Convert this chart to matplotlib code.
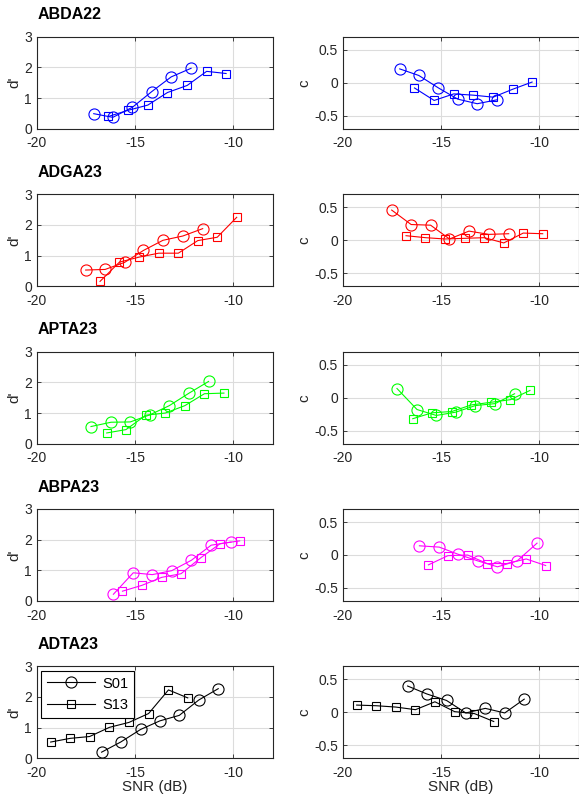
import matplotlib
matplotlib.use("Agg")
import matplotlib.pyplot as plt

plt.rcParams['font.family'] = ['Liberation Sans', 'DejaVu Sans']

names = ['ABDA22', 'ADGA23', 'APTA23', 'ABPA23', 'ADTA23']
colors = ['#0000ff', '#ff0000', '#00ff00', '#ff00ff', '#000000']

# S01 (circles) and S13 (squares): SNR, d', c
s01_snr = [
    [-17.1, -16.13, -15.13, -14.15, -13.16, -12.15],
    [-17.51, -16.52, -15.53, -14.57, -13.58, -12.57, -11.56],
    [-17.24, -16.22, -15.24, -14.25, -13.26, -12.25, -11.26],
    [-16.10, -15.09, -14.12, -13.13, -12.13, -11.13, -10.12],
    [-16.70, -15.73, -14.72, -13.74, -12.75, -11.76, -10.77],
]
s01_dp = [
    [0.49, 0.37, 0.70, 1.21, 1.69, 1.97],
    [0.53, 0.55, 0.78, 1.17, 1.50, 1.64, 1.88],
    [0.56, 0.70, 0.71, 0.94, 1.24, 1.65, 2.03],
    [0.22, 0.92, 0.86, 0.99, 1.33, 1.82, 1.92],
    [0.20, 0.53, 0.94, 1.22, 1.40, 1.90, 2.27],
]
s01_c = [
    [0.21, 0.11, -0.08, -0.25, -0.32, -0.26],
    [0.46, 0.24, 0.23, 0.02, 0.14, 0.09, 0.10],
    [0.14, -0.18, -0.27, -0.22, -0.12, -0.09, 0.06],
    [0.14, 0.12, 0.01, -0.09, -0.18, -0.09, 0.18],
    [0.40, 0.28, 0.18, -0.01, 0.06, -0.01, 0.20],
]
s13_snr = [
    [-16.35, -15.35, -14.35, -13.35, -12.35, -11.36, -10.37],
    [-16.78, -15.79, -14.80, -13.80, -12.80, -11.81, -10.82, -9.83],
    [-16.44, -15.46, -14.45, -13.46, -12.47, -11.47, -10.48],
    [-15.64, -14.65, -13.65, -12.66, -11.66, -10.67, -9.68],
    [-19.29, -18.30, -17.31, -16.30, -15.31, -14.31, -13.30, -12.32],
]
s13_dp = [
    [0.40, 0.60, 0.77, 1.18, 1.41, 1.87, 1.80],
    [0.16, 0.79, 0.95, 1.08, 1.08, 1.49, 1.60, 2.25],
    [0.35, 0.46, 0.93, 1.00, 1.24, 1.63, 1.65],
    [0.32, 0.51, 0.77, 0.89, 1.41, 1.87, 1.96],
    [0.53, 0.65, 0.71, 1.01, 1.17, 1.46, 2.23, 1.97],
]
s13_c = [
    [-0.08, -0.27, -0.17, -0.19, -0.22, -0.10, 0.01],
    [0.07, 0.04, 0.02, 0.03, 0.04, -0.04, 0.11, 0.10],
    [-0.32, -0.23, -0.21, -0.11, -0.07, -0.03, 0.11],
    [-0.15, -0.01, 0.00, -0.13, -0.13, -0.06, -0.16],
    [0.11, 0.10, 0.08, 0.04, 0.16, 0.01, -0.02, -0.14],
]

W, H = 579, 802
fig = plt.figure(figsize=(W / 100, H / 100), dpi=100)

row_top = [36.7, 194.3, 351.7, 509.0, 666.3]
ax_h = 92.0
lefts = [36.7, 342.7]
ax_w = 236.0
axc = '#262626'


def style(ax):
    ax.set_xlim(-20, -8)
    ax.set_xticks([-20, -15, -10])
    ax.grid(True, color='#dcdcdc', linewidth=0.8)
    ax.set_axisbelow(True)
    ax.tick_params(direction='in', length=3, width=0.6, labelsize=10,
                   colors=axc, top=True, right=True, labeltop=False, labelright=False)
    ax.tick_params(axis='x', pad=5.5)
    for s in ax.spines.values():
        s.set_color(axc)
        s.set_linewidth(0.8)


for i in range(5):
    col = colors[i]
    y0 = 1 - (row_top[i] + ax_h) / H
    axL = fig.add_axes([lefts[0] / W, y0, ax_w / W, ax_h / H])
    axR = fig.add_axes([lefts[1] / W, y0, ax_w / W, ax_h / H])

    l1, = axL.plot(s01_snr[i], s01_dp[i], '-o', color=col, mfc='none', ms=8, lw=0.8, mew=0.8)
    l2, = axL.plot(s13_snr[i], s13_dp[i], '-s', color=col, mfc='none', ms=6, lw=0.8, mew=0.8)
    axR.plot(s01_snr[i], s01_c[i], '-o', color=col, mfc='none', ms=8, lw=0.8, mew=0.8)
    axR.plot(s13_snr[i], s13_c[i], '-s', color=col, mfc='none', ms=6, lw=0.8, mew=0.8)

    style(axL)
    style(axR)
    axL.set_ylim(0, 3)
    axL.set_yticks([0, 1, 2, 3])
    axR.set_ylim(-0.7, 0.7)
    axR.set_yticks([-0.5, 0, 0.5])
    axR.set_yticklabels(['-0.5', '0', '0.5'])
    axL.set_xticklabels(['-20', '-15', '-10'])
    axR.set_xticklabels(['-20', '-15', '-10'])
    axL.set_ylabel("d'", fontsize=11, color=axc, labelpad=2)
    axR.set_ylabel("c", fontsize=11, color=axc, labelpad=2)

    fig.text(lefts[0] / W + 0.002, 1 - (row_top[i] - 22) / H, names[i],
             fontsize=11.5, fontweight='bold', ha='left', va='center')

    if i == 4:
        axL.set_xlabel('SNR (dB)', fontsize=11, color=axc, labelpad=0)
        axR.set_xlabel('SNR (dB)', fontsize=11, color=axc, labelpad=0)
        leg = axL.legend([l1, l2], ['S01', 'S13'], loc='upper left', fontsize=10.5,
                         fancybox=False, framealpha=1, edgecolor='black',
                         handlelength=3.3, handletextpad=0.5,
                         borderaxespad=0.3, borderpad=0.4)
        leg.get_frame().set_linewidth(0.8)

fig.savefig('out.png', dpi=100)
